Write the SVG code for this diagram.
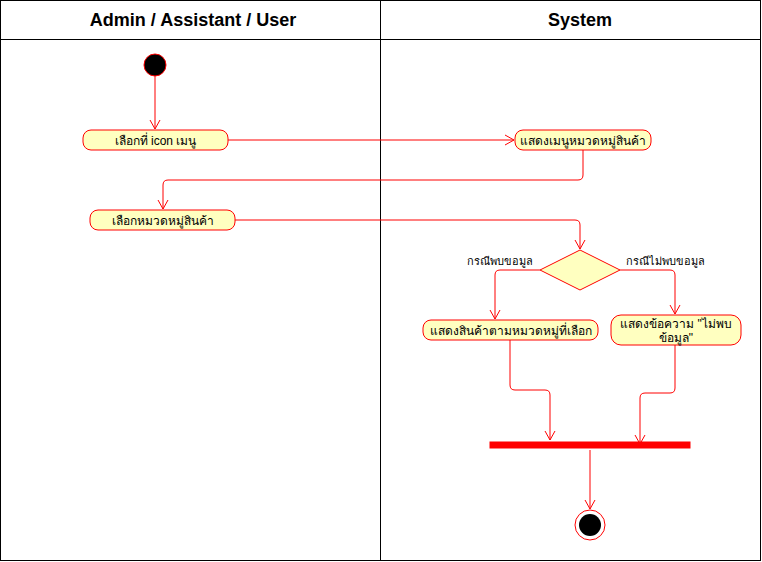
<svg xmlns="http://www.w3.org/2000/svg" width="762" height="562" viewBox="0 0 762 562">
<defs>
<marker id="arr" markerWidth="12" markerHeight="12" refX="10" refY="6" orient="auto" markerUnits="userSpaceOnUse">
<path d="M1,1 L10,6 L1,11" fill="none" stroke="#ff0000" stroke-width="1"/>
</marker>
<style>
.lane{fill:#ffffff;stroke:#000000;stroke-width:1}
.hdr{font-family:"Liberation Sans",Arial,sans-serif;font-size:18px;font-weight:bold;fill:#000;text-anchor:middle}
.act{fill:#ffffc0;stroke:#ff0000;stroke-width:1}
.t{font-family:"Liberation Sans","Noto Sans","DejaVu Sans",sans-serif;font-size:12px;fill:#000;text-anchor:middle}
.lbl{font-family:"Liberation Sans","Noto Sans","DejaVu Sans",sans-serif;font-size:11px;fill:#000}
.e{fill:none;stroke:#ff0000;stroke-width:1;marker-end:url(#arr)}
</style>
</defs>
<g id="lanes">
<rect class="lane" x="0.5" y="0.5" width="760" height="560"/>
<line x1="380.5" y1="0.5" x2="380.5" y2="560.5" stroke="#000"/>
<line x1="0.5" y1="39.5" x2="760.5" y2="39.5" stroke="#000"/>
<text class="hdr" x="193" y="26">Admin / Assistant / User</text>
<text class="hdr" x="580" y="26">System</text>
</g>
<g id="connectors">
<path class="e" d="M155,76 L155,129"/>
<path class="e" d="M228,140 L514,140"/>
<path class="e" d="M583,150 L583,175 Q583,180 578,180 L168,180 Q163,180 163,185 L163,209"/>
<path class="e" d="M235,220 L575,220 Q580,220 580,225 L580,249"/>
<path class="e" d="M540,270 L500,270 Q495,270 495,275 L495,319"/>
<path class="e" d="M620,270 L670,270 Q675,270 675,275 L675,314"/>
<path class="e" d="M510,340 L510,385 Q510,390 515,390 L545,390 Q550,390 550,395 L550,440"/>
<path class="e" d="M675,345 L675,388 Q675,393 670,393 L645,393 Q640,393 640,398 L640,444"/>
<path class="e" d="M590,450 L590,509"/>
<text class="lbl" x="533" y="265" text-anchor="end">กรณีพบขอมูล</text>
<text class="lbl" x="626" y="265">กรณีไม่พบขอมูล</text>
</g>
<g id="start">
<circle cx="155" cy="65" r="11" fill="#000" stroke="#ff0000" stroke-width="1"/>
</g>
<g id="n1">
<rect class="act" x="83" y="130" width="145" height="20" rx="8"/>
<text class="t" x="155.5" y="144.5">เลือกที่ icon เมนู</text>
</g>
<g id="n2">
<rect class="act" x="515" y="130" width="136" height="20" rx="8"/>
<text class="t" x="583" y="144.5">แสดงเมนูหมวดหมู่สินค้า</text>
</g>
<g id="n3">
<rect class="act" x="90" y="210" width="145" height="20" rx="8"/>
<text class="t" x="162.5" y="224.5">เลือกหมวดหมู่สินค้า</text>
</g>
<g id="decision">
<path d="M580,250 L620,270 L580,290 L540,270 Z" fill="#ffffc0" stroke="#ff0000" stroke-width="1"/>
</g>
<g id="n4">
<rect class="act" x="423" y="320" width="175" height="20" rx="8"/>
<text class="t" x="510.5" y="334.5">แสดงสินค้าตามหมวดหมู่ที่เลือก</text>
</g>
<g id="n5">
<rect class="act" x="611" y="315" width="130" height="30" rx="10"/>
<text class="t" x="676" y="328">แสดงข้อความ "ไม่พบ</text>
<text class="t" x="676" y="342">ข้อมูล"</text>
</g>
<g id="join">
<rect x="490" y="442" width="200" height="6" fill="#ff0000" stroke="#ff0000" stroke-width="1"/>
</g>
<g id="end">
<circle cx="590" cy="525" r="15" fill="#fff" stroke="#ff0000" stroke-width="1"/>
<circle cx="590" cy="525" r="11" fill="#000"/>
</g>
</svg>
